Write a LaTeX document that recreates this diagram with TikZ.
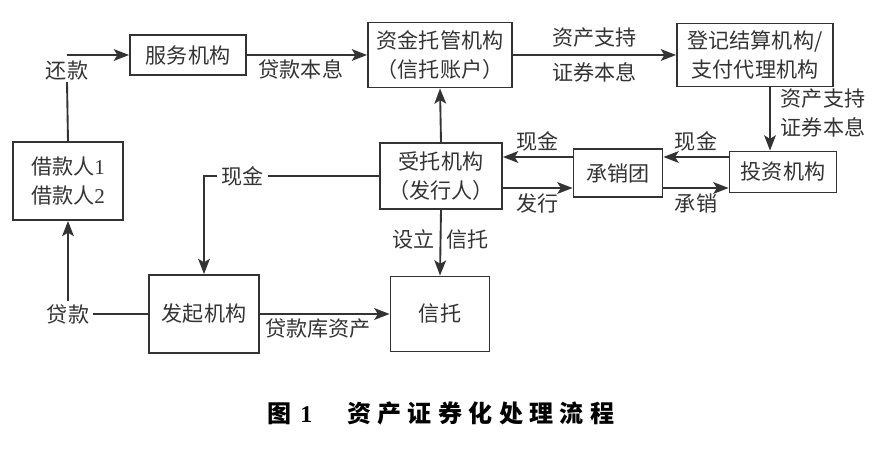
\documentclass[tikz,border=0pt]{standalone}
\usepackage{fontspec}
\setmainfont{Liberation Serif}
\newfontfamily\cnfont{Noto Sans CJK SC}
\usetikzlibrary{arrows.meta, positioning}

\definecolor{linegray}{HTML}{333333}
\definecolor{textgray}{HTML}{333333}
\newcommand{\lsp}{\hspace{0.19cm}}

\tikzset{
  box/.style={draw=linegray, line width=1.6pt, align=center, text=textgray, inner sep=2pt},
  arr/.style={draw=linegray, line width=1.6pt, -{Stealth[length=13pt,width=10pt,inset=3pt]}},
  lnk/.style={draw=linegray, line width=1.6pt},
  lbl/.style={text=textgray, inner sep=1pt},
}

\begin{document}
\begin{tikzpicture}[x=0.03cm, y=-0.03cm, font=\cnfont\fontsize{18pt}{25pt}\selectfont]
    \useasboundingbox (0,0) rectangle (882,451);

    % Top row
    \node[box, minimum width=3.48cm, minimum height=1.2cm] (service) at (188,55) {服务机构};
    \node[box, minimum width=4.32cm, minimum height=1.95cm] (custody) at (440,55) {资金托管机构\\（信托账户）};
    \node[box, minimum width=4.68cm, minimum height=1.89cm] (registry) at (755,55) {登记结算机构/\\支付代理机构};

    % Middle row
    \node[box, minimum width=3.3cm, minimum height=2.34cm] (borrower) at (68,181) {借款人{\rmfamily 1}\\借款人{\rmfamily 2}};
    \node[box, minimum width=3.66cm, minimum height=1.98cm] (trustee) at (441,176) {受托机构\\（发行人）};
    \node[box, minimum width=2.67cm, minimum height=1.44cm] (underwriter) at (618,173) {承销团};
    \node[box, minimum width=3.21cm, minimum height=1.23cm] (investor) at (783,172) {投资机构};

    % Bottom row
    \node[box, minimum width=3.3cm, minimum height=2.34cm] (originator) at (204,314) {发起机构};
    \node[box, minimum width=2.97cm, minimum height=2.25cm] (trust) at (440,314) {信托};

    % Repayment path
    \node[lbl] (repaylbl) at (67,71) {还款};
    \coordinate (repay) at (67,55);
    \draw[lnk] (borrower.north) -- (repaylbl.south);
    \draw[arr] (repay) -- (service.west);
    \draw[arr] (service.east) -- (custody.west) node[lbl, pos=0.45, below=2pt] {贷款本息};
    \draw[arr] (custody.east) -- (registry.west)
        node[lbl, midway, above=5pt] {资产支持}
        node[lbl, midway, below=5pt] {证券本息};
    \draw[arr] (registry.south -| 770,0) -- (investor.north -| 770,0);
    \node[lbl, align=left] (paylbl) at (823,113) {资产支持\\证券本息};

    % Issue and cash
    \draw[arr] (investor.west |- 0,157) -- (underwriter.east |- 0,157) node[lbl, midway, above=3pt] {现金};
    \draw[arr] (underwriter.west |- 0,157) -- (trustee.east |- 0,157) node[lbl, midway, above=3pt] {现金};
    \draw[arr] (trustee.east |- 0,188) -- (underwriter.west |- 0,188) node[lbl, midway, below=3pt] {发行};
    \draw[arr] (underwriter.east |- 0,188) -- (investor.west |- 0,188) node[lbl, midway, below=3pt] {承销};
    \draw[arr] (trustee.north) -- (custody.south);
    \draw[arr] (trustee.south) -- (trust.north)
        node[lbl, pos=0.45, left=3pt] {设立}
        node[lbl, pos=0.45, right=3pt] {信托};

    % Cash to originator, loans to borrowers
    \draw[arr] (trustee.west) -| (originator.north) node[lbl, pos=0.39, fill=white, inner sep=4pt] {现金};
    \draw[arr] (originator.west) -| (borrower.south) node[lbl, pos=0.5, fill=white, inner sep=3pt] {贷款};
    \draw[arr] (originator.east) -- (trust.west) node[lbl, pos=0.45, below=2pt] {贷款库资产};

    % Caption
    \node[text=black, font=\cnfont\bfseries\fontsize{20.5pt}{24pt}\selectfont] (caption) at (441,413)
        {图\hspace{0.25cm}{\rmfamily 1}\hspace{1.05cm}资\lsp{}产\lsp{}证\lsp{}券\lsp{}化\lsp{}处\lsp{}理\lsp{}流\lsp{}程};
\end{tikzpicture}
\end{document}
